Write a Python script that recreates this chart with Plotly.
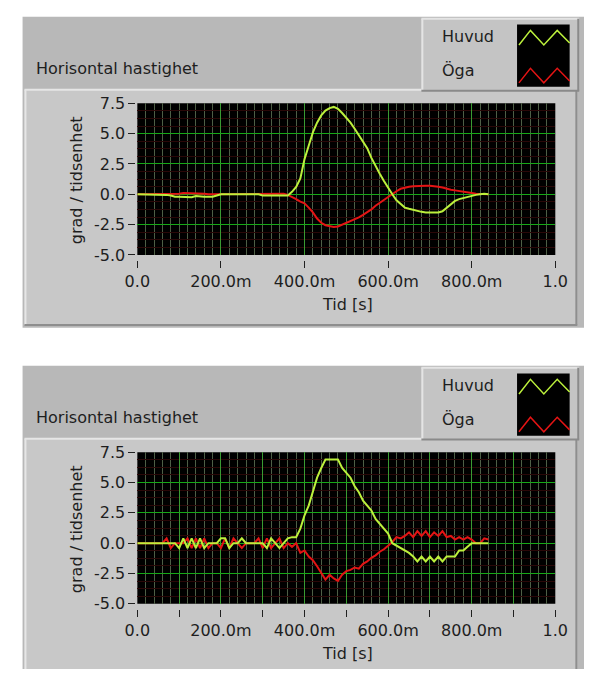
import plotly.graph_objects as go

W, H = 597, 679

# ---------------- data ----------------
T = [round(i * 0.01, 2) for i in range(85)]  # time [s]

HUVUD_TOP = [0, 0, 0, 0, 0, 0, 0, -0.05, -0.1, -0.2,
             -0.2, -0.2, -0.2, -0.25, -0.15, -0.2, -0.2, -0.2, -0.2, -0.1,
             0, 0, 0, 0, 0, 0, 0, 0, 0, 0,
             -0.1, -0.1, -0.1, -0.1, -0.1, -0.1, -0.1, 0.2, 0.6, 1.3,
             2.9, 4.0, 5.1, 5.9, 6.5, 6.9, 7.1, 7.2, 7.05, 6.7,
             6.3, 5.9, 5.4, 4.9, 4.4, 3.8, 3.0, 2.3, 1.7, 1.1,
             0.5, 0.0, -0.5, -0.8, -1.1, -1.2, -1.3, -1.4, -1.45, -1.5,
             -1.5, -1.5, -1.5, -1.4, -1.1, -0.8, -0.55, -0.4, -0.3, -0.2,
             -0.1, -0.05, 0, 0.05, 0]

OGA_TOP = [0, 0, 0, 0, 0, 0, 0, 0, 0, 0,
           0.05, 0.1, 0.1, 0.1, 0.1, 0.1, 0.05, 0, 0, 0,
           0, 0, 0, 0, 0, 0, 0.05, 0.05, 0.05, 0.05,
           0.05, 0.05, 0.05, 0.05, 0.05, 0.05, -0.05, -0.2, -0.4, -0.6,
           -0.75, -1.1, -1.5, -2.0, -2.35, -2.55, -2.65, -2.7, -2.65, -2.5,
           -2.35, -2.25, -2.1, -1.9, -1.7, -1.5, -1.25, -0.95, -0.7, -0.45,
           -0.2, 0.0, 0.25, 0.45, 0.55, 0.62, 0.67, 0.7, 0.7, 0.7,
           0.7, 0.68, 0.62, 0.55, 0.45, 0.38, 0.32, 0.25, 0.18, 0.12,
           0.1, 0.05, 0.02, 0, 0]

HUVUD_BOT = [0, 0, 0, 0, 0, 0, 0, 0, 0, 0,
             -0.4, 0.4, -0.4, 0.4, -0.4, 0.4, -0.4, 0, 0, 0,
             0.4, 0.4, -0.4, 0, 0, 0.4, 0, 0, 0, 0,
             0, -0.4, 0.4, 0, -0.4, 0, 0.4, 0.5, 0.5, 1.2,
             2.3, 3.1, 4.3, 5.4, 6.2, 6.9, 6.9, 6.9, 6.9, 6.2,
             5.8, 5.4, 4.7, 4.2, 3.5, 3.1, 2.7, 2.0, 1.6, 1.2,
             0.8, 0.0, -0.2, -0.4, -0.6, -0.8, -1.1, -1.5, -1.1, -1.5,
             -1.1, -1.5, -1.1, -1.5, -1.1, -1.1, -1.1, -0.6, -0.6, -0.3,
             0, 0, 0, 0, 0]

OGA_BOT = [0, 0, 0, 0, 0, 0, 0, 0.4, -0.4, 0,
           0, 0, 0.4, -0.4, 0.4, -0.4, 0.4, -0.4, 0, 0,
           -0.4, 0.4, -0.4, 0.4, 0, -0.4, 0, 0, 0, 0.4,
           -0.4, 0.4, -0.4, 0, 0.4, -0.4, 0, -0.3, 0, -0.8,
           -0.6, -1.1, -1.4, -1.9, -2.5, -3.0, -2.6, -2.9, -3.1, -2.6,
           -2.3, -2.2, -2.0, -2.1, -1.7, -1.5, -1.2, -1.0, -0.7, -0.5,
           -0.2, 0.1, 0.5, 0.4, 0.6, 0.9, 0.5, 1.0, 0.6, 1.0,
           0.5, 0.9, 0.6, 1.0, 0.5, 0.6, 0.3, 0.5, 0.3, 0.5,
           0.3, 0, 0, 0.4, 0.3]

X_TICKS_TOP = [0, 0.2, 0.4, 0.6, 0.8, 1.0]
X_LABELS_TOP = ["0.0", "200.0m", "400.0m", "600.0m", "800.0m", "1.0"]
X_TICKS_BOT = [0, 0.1, 0.2, 0.3, 0.4, 0.5, 0.6, 0.7, 0.8, 0.9, 1.0]
X_LABELS_BOT = ["0.0", "", "200.0m", "", "400.0m", "", "600.0m", "", "800.0m", "", "1.0"]
Y_TICKS = [7.5, 5.0, 2.5, 0.0, -2.5, -5.0]
Y_LABELS = ["7.5", "5.0", "2.5", "0.0", "-2.5", "-5.0"]

TITLE = "Horisontal hastighet"
SERIES = ["Huvud", "Öga"]
Y_TITLE = "grad / tidsenhet"
X_TITLE = "Tid [s]"

# ---------------- style ----------------
FONT = "DejaVu Sans"
FS = 16
TXT = "#1e1e1e"
GREEN = "#bcf03c"
RED = "#e41414"
MAJ_V = "#3a9a32"
MIN_V = "#4e5e46"
MAJ_H = "#17a817"
MIN_H = "#2a0707"
OUTER = "#b8b8b8"
FRAME = "#c8c8c8"


def px(x):
    return x / W


def py(y):
    return 1 - y / H


OFF = 359  # vertical offset of second panel
PLOT_X0, PLOT_X1 = 130, 567
PLOT_TOP = [97, 97 + OFF]
PLOT_BOT = [253, 253 + OFF]

shapes = []
annotations = []


def rect(x0, y0, x1, y1, fill, layer="below"):
    shapes.append(dict(type="rect", xref="paper", yref="paper",
                       x0=px(x0), x1=px(x1), y0=py(y1), y1=py(y0),
                       fillcolor=fill, line=dict(width=0), layer=layer))


def hline(x0, x1, y, color, width=1):
    shapes.append(dict(type="line", xref="paper", yref="paper",
                       x0=px(x0), x1=px(x1), y0=py(y), y1=py(y),
                       line=dict(color=color, width=width), layer="below"))


def vline(x, y0, y1, color, width=1):
    shapes.append(dict(type="line", xref="paper", yref="paper",
                       x0=px(x), x1=px(x), y0=py(y0), y1=py(y1),
                       line=dict(color=color, width=width), layer="below"))


for k in range(2):
    o = k * OFF
    bottom = 328 + o if k == 0 else H
    # outer gray panel
    rect(10, 8 + o, W, bottom, OUTER)
    # plot frame
    fb = 325 + o if k == 0 else H
    rect(12, 83 + o, 590, fb, FRAME)
    hline(12, 590, 83 + o, "#e6e6e6", 2)
    vline(13, 83 + o, fb, "#e6e6e6", 2)
    vline(589, 83 + o, fb, "#8e8e8e", 2)
    if k == 0:
        hline(12, 590, fb, "#8e8e8e", 2)
    # legend panel
    rect(427, 10 + o, 592, 84 + o, "#c4c4c4")
    hline(427, 592, 10 + o, "#e4e4e4", 2)
    vline(428, 10 + o, 84 + o, "#e4e4e4", 2)
    hline(427, 592, 84 + o, "#8a8a8a", 2)
    vline(591, 10 + o, 84 + o, "#8a8a8a", 2)
    # legend swatch
    rect(527, 16 + o, 582, 80 + o, "#000000")
    # plot area
    rect(PLOT_X0, PLOT_TOP[k], PLOT_X1, PLOT_BOT[k], "#000000")

    # legend zigzags
    for (yl, yh, col) in [(37, 22, GREEN), (76, 61, RED)]:
        pts = [(529, yl), (541, yh), (555, yl), (569, yh), (582, yl - 2)]
        path = "M " + " L ".join(f"{px(x)},{py(y + o)}" for x, y in pts)
        shapes.append(dict(type="path", xref="paper", yref="paper", path=path,
                           line=dict(color=col, width=1.5), layer="above"))

    # texts
    annotations.append(dict(text=TITLE, x=px(22), y=py(61 + o), xref="paper", yref="paper",
                            xanchor="left", yanchor="middle", showarrow=False,
                            font=dict(family=FONT, size=FS, color=TXT)))
    annotations.append(dict(text=SERIES[0], x=px(446), y=py(28 + o), xref="paper", yref="paper",
                            xanchor="left", yanchor="middle", showarrow=False,
                            font=dict(family=FONT, size=FS, color=TXT)))
    annotations.append(dict(text=SERIES[1], x=px(446), y=py(63 + o), xref="paper", yref="paper",
                            xanchor="left", yanchor="middle", showarrow=False,
                            font=dict(family=FONT, size=FS, color=TXT)))
    annotations.append(dict(text=Y_TITLE, x=px(66), y=py(176 + o), xref="paper", yref="paper",
                            xanchor="center", yanchor="middle", textangle=-90, showarrow=False,
                            font=dict(family=FONT, size=FS, color=TXT)))
    annotations.append(dict(text=X_TITLE, x=px(350), y=py(304 + o), xref="paper", yref="paper",
                            xanchor="center", yanchor="middle", showarrow=False,
                            font=dict(family=FONT, size=FS, color=TXT)))

fig = go.Figure()
fig.add_trace(go.Scatter(x=T, y=OGA_TOP, xaxis="x", yaxis="y", mode="lines",
                         line=dict(color=RED, width=2), name=SERIES[1], showlegend=False))
fig.add_trace(go.Scatter(x=T, y=HUVUD_TOP, xaxis="x", yaxis="y", mode="lines",
                         line=dict(color=GREEN, width=2), name=SERIES[0], showlegend=False))
fig.add_trace(go.Scatter(x=T, y=OGA_BOT, xaxis="x2", yaxis="y2", mode="lines",
                         line=dict(color=RED, width=2), name=SERIES[1], showlegend=False))
fig.add_trace(go.Scatter(x=T, y=HUVUD_BOT, xaxis="x2", yaxis="y2", mode="lines",
                         line=dict(color=GREEN, width=2), name=SERIES[0], showlegend=False))


def xaxis(k, tickvals, ticktext):
    return dict(domain=[px(PLOT_X0), px(PLOT_X1)], range=[0, 1], anchor="free",
                position=py(PLOT_BOT[k] + 5), showline=False, zeroline=False,
                tickmode="array", tickvals=tickvals, ticktext=ticktext,
                ticks="outside", ticklen=7, tickcolor="#202020", tickwidth=1,
                showgrid=True, gridcolor=MAJ_V, gridwidth=1,
                minor=dict(tickmode="linear", tick0=0, dtick=0.02, showgrid=True,
                           gridcolor=MIN_V, gridwidth=1, ticks=""),
                tickfont=dict(family=FONT, size=FS, color=TXT), fixedrange=True)


def yaxis(k):
    return dict(domain=[py(PLOT_BOT[k]), py(PLOT_TOP[k])], range=[-5, 7.5], anchor="free",
                position=px(PLOT_X0 - 2), showline=False, zeroline=False,
                tickmode="array", tickvals=Y_TICKS, ticktext=Y_LABELS,
                ticks="outside", ticklen=7, tickcolor="#202020", tickwidth=1,
                showgrid=True, gridcolor=MAJ_H, gridwidth=1,
                minor=dict(tickmode="linear", tick0=0, dtick=0.625, showgrid=True,
                           gridcolor=MIN_H, gridwidth=1, ticks=""),
                tickfont=dict(family=FONT, size=FS, color=TXT), fixedrange=True)


fig.update_layout(
    width=W, height=H, margin=dict(l=0, r=0, t=0, b=0),
    paper_bgcolor="#ffffff", plot_bgcolor="#000000",
    showlegend=False,
    xaxis=xaxis(0, X_TICKS_TOP, X_LABELS_TOP),
    yaxis=yaxis(0),
    xaxis2=xaxis(1, X_TICKS_BOT, X_LABELS_BOT),
    yaxis2=yaxis(1),
    shapes=shapes, annotations=annotations,
)

fig.write_html("out.html", config={"displayModeBar": False},
               post_script="document.body.style.margin='0';document.body.style.overflow='hidden';")
